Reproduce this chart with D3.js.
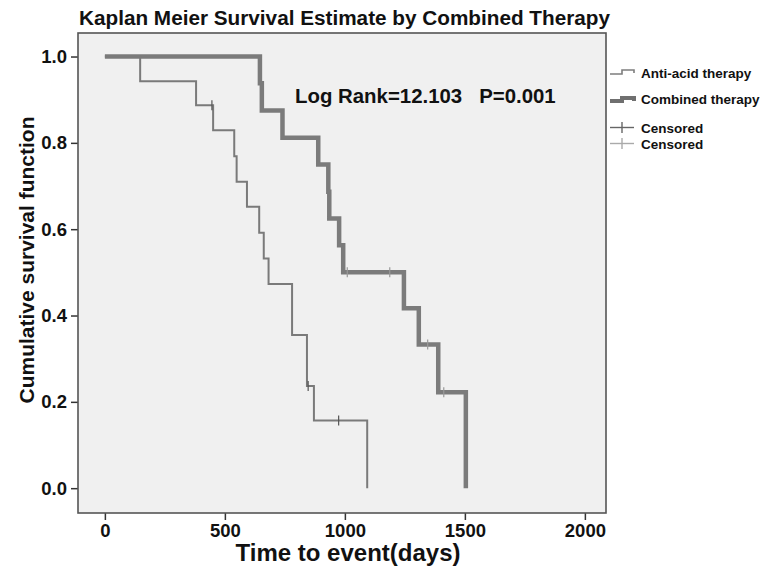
<!DOCTYPE html>
<html>
<head>
<meta charset="utf-8">
<script src="https://cdn.jsdelivr.net/npm/d3@7/dist/d3.min.js"></script>
<style>
  html, body { margin: 0; padding: 0; background: #fff; }
  svg text { font-family: "Liberation Sans", Arial, sans-serif; font-weight: bold; fill: #111; }
</style>
</head>
<body>
<svg id="chart" width="761" height="569"></svg>
<script>
// ---- data ----
const chartTitle = "Kaplan Meier Survival Estimate by Combined Therapy";
const xTitle = "Time to event(days)";
const yTitle = "Cumulative survival function";
const annotation = "Log Rank=12.103   P=0.001";
const xTicks = [0, 500, 1000, 1500, 2000];
const yTicks = [0.0, 0.2, 0.4, 0.6, 0.8, 1.0];
const legendLabels = ["Anti-acid therapy", "Combined therapy", "Censored", "Censored"];

// Anti-acid therapy: step times and survival after each step
const antiTime = [0, 147, 380, 451, 539, 549, 592, 643, 662, 682, 780, 842, 871, 1093];
const antiSurv = [1.0, 0.943, 0.887, 0.829, 0.769, 0.710, 0.652, 0.592, 0.532, 0.473, 0.355, 0.237, 0.157, 0.0];
const antiCensTime = [446, 847, 974];
const antiCensSurv = [0.887, 0.237, 0.157];

// Combined therapy
const comboTime = [0, 646, 654, 740, 889, 931, 935, 976, 993, 1246, 1308, 1389, 1504];
const comboSurv = [1.0, 0.938, 0.875, 0.812, 0.750, 0.687, 0.625, 0.563, 0.500, 0.417, 0.333, 0.222, 0.0];
const comboCensTime = [1010, 1187, 1345, 1412];
const comboCensSurv = [0.500, 0.500, 0.333, 0.222];

// ---- layout ----
const plot = { left: 78, top: 33, right: 606, bottom: 513 };
const svg = d3.select("#chart");

const x = d3.scaleLinear().domain([-112, 2088]).range([plot.left, plot.right]);
const y = d3.scaleLinear().domain([-0.0575, 1.0545]).range([plot.bottom, plot.top]);

// background
svg.append("rect").attr("x", plot.left).attr("y", plot.top)
  .attr("width", plot.right - plot.left).attr("height", plot.bottom - plot.top)
  .attr("fill", "#f0f0f0");

// title
svg.append("text").attr("x", 79).attr("y", 25).attr("font-size", 20)
  .attr("textLength", 531).attr("lengthAdjust", "spacingAndGlyphs")
  .text(chartTitle);

// axes
const xAxis = d3.axisBottom(x).tickValues(xTicks).tickSize(7).tickPadding(2).tickFormat(d3.format("d"));
const gx = svg.append("g").attr("transform", `translate(0,${plot.bottom})`).call(xAxis);
gx.select(".domain").remove();
gx.selectAll(".tick line").attr("stroke", "#333").attr("stroke-width", 1.5);
gx.selectAll(".tick text").attr("font-size", 18.5).attr("fill", "#111").attr("dy", "0.8em");

const yAxis = d3.axisLeft(y).tickValues(yTicks).tickSize(7).tickPadding(4).tickFormat(d3.format(".1f"));
const gy = svg.append("g").attr("transform", `translate(${plot.left},0)`).call(yAxis);
gy.select(".domain").remove();
gy.selectAll(".tick line").attr("stroke", "#333").attr("stroke-width", 1.5);
gy.selectAll(".tick text").attr("font-size", 18.5).attr("fill", "#111");

// frame
svg.append("rect").attr("x", plot.left).attr("y", plot.top)
  .attr("width", plot.right - plot.left).attr("height", plot.bottom - plot.top)
  .attr("fill", "none").attr("stroke", "#555").attr("stroke-width", 1.6);

// axis titles
svg.append("text").attr("x", 348).attr("y", 561).attr("text-anchor", "middle")
  .attr("font-size", 24).text(xTitle);
svg.append("text").attr("transform", "translate(34,260) rotate(-90)")
  .attr("text-anchor", "middle").attr("font-size", 21).text(yTitle);

// curves
const line = d3.line().x(d => x(d[0])).y(d => y(d[1])).curve(d3.curveStepAfter);
const antiPts = d3.zip(antiTime, antiSurv);
const comboPts = d3.zip(comboTime, comboSurv);

svg.append("path").datum(comboPts).attr("d", line)
  .attr("fill", "none").attr("stroke", "#7b7b7b").attr("stroke-width", 4.5);
svg.append("path").datum(antiPts).attr("d", line)
  .attr("fill", "none").attr("stroke", "#7a7a7a").attr("stroke-width", 2);

// censor marks
svg.append("g").selectAll("line").data(d3.zip(antiCensTime, antiCensSurv)).join("line")
  .attr("x1", d => x(d[0])).attr("x2", d => x(d[0]))
  .attr("y1", d => y(d[1]) - 5).attr("y2", d => y(d[1]) + 5)
  .attr("stroke", "#555").attr("stroke-width", 1.2);
svg.append("g").selectAll("line").data(d3.zip(comboCensTime, comboCensSurv)).join("line")
  .attr("x1", d => x(d[0])).attr("x2", d => x(d[0]))
  .attr("y1", d => y(d[1]) - 5).attr("y2", d => y(d[1]) + 5)
  .attr("stroke", "#999").attr("stroke-width", 1.2);

// annotation
svg.append("text").attr("x", 295).attr("y", 103).attr("font-size", 20.4)
  .style("white-space", "pre").text(annotation);

// legend
const lg = svg.append("g");
const lx0 = 610, lx1 = 634, lxm = 622;
lg.append("path").attr("d", `M${lx0},74 H${lxm} V70 H${lx1} V73`)
  .attr("fill", "none").attr("stroke", "#7d7d7d").attr("stroke-width", 1.6);
lg.append("path").attr("d", `M${lx0},101 H${lxm} V98 H${lx1} V101`)
  .attr("fill", "none").attr("stroke", "#6f6f6f").attr("stroke-width", 4);
lg.append("line").attr("x1", lx0).attr("x2", lx1).attr("y1", 127.5).attr("y2", 127.5)
  .attr("stroke", "#666").attr("stroke-width", 1.4);
lg.append("line").attr("x1", lxm).attr("x2", lxm).attr("y1", 122).attr("y2", 133)
  .attr("stroke", "#666").attr("stroke-width", 1.4);
lg.append("line").attr("x1", lx0).attr("x2", lx1).attr("y1", 143.5).attr("y2", 143.5)
  .attr("stroke", "#aaa").attr("stroke-width", 1.4);
lg.append("line").attr("x1", lxm).attr("x2", lxm).attr("y1", 138).attr("y2", 149)
  .attr("stroke", "#aaa").attr("stroke-width", 1.4);
const legendY = [73, 99, 128, 144];
lg.selectAll("text").data(legendLabels).join("text")
  .attr("x", 641).attr("y", (d, i) => legendY[i]).attr("dy", "0.35em")
  .attr("font-size", 13.5).text(d => d);
</script>
</body>
</html>
